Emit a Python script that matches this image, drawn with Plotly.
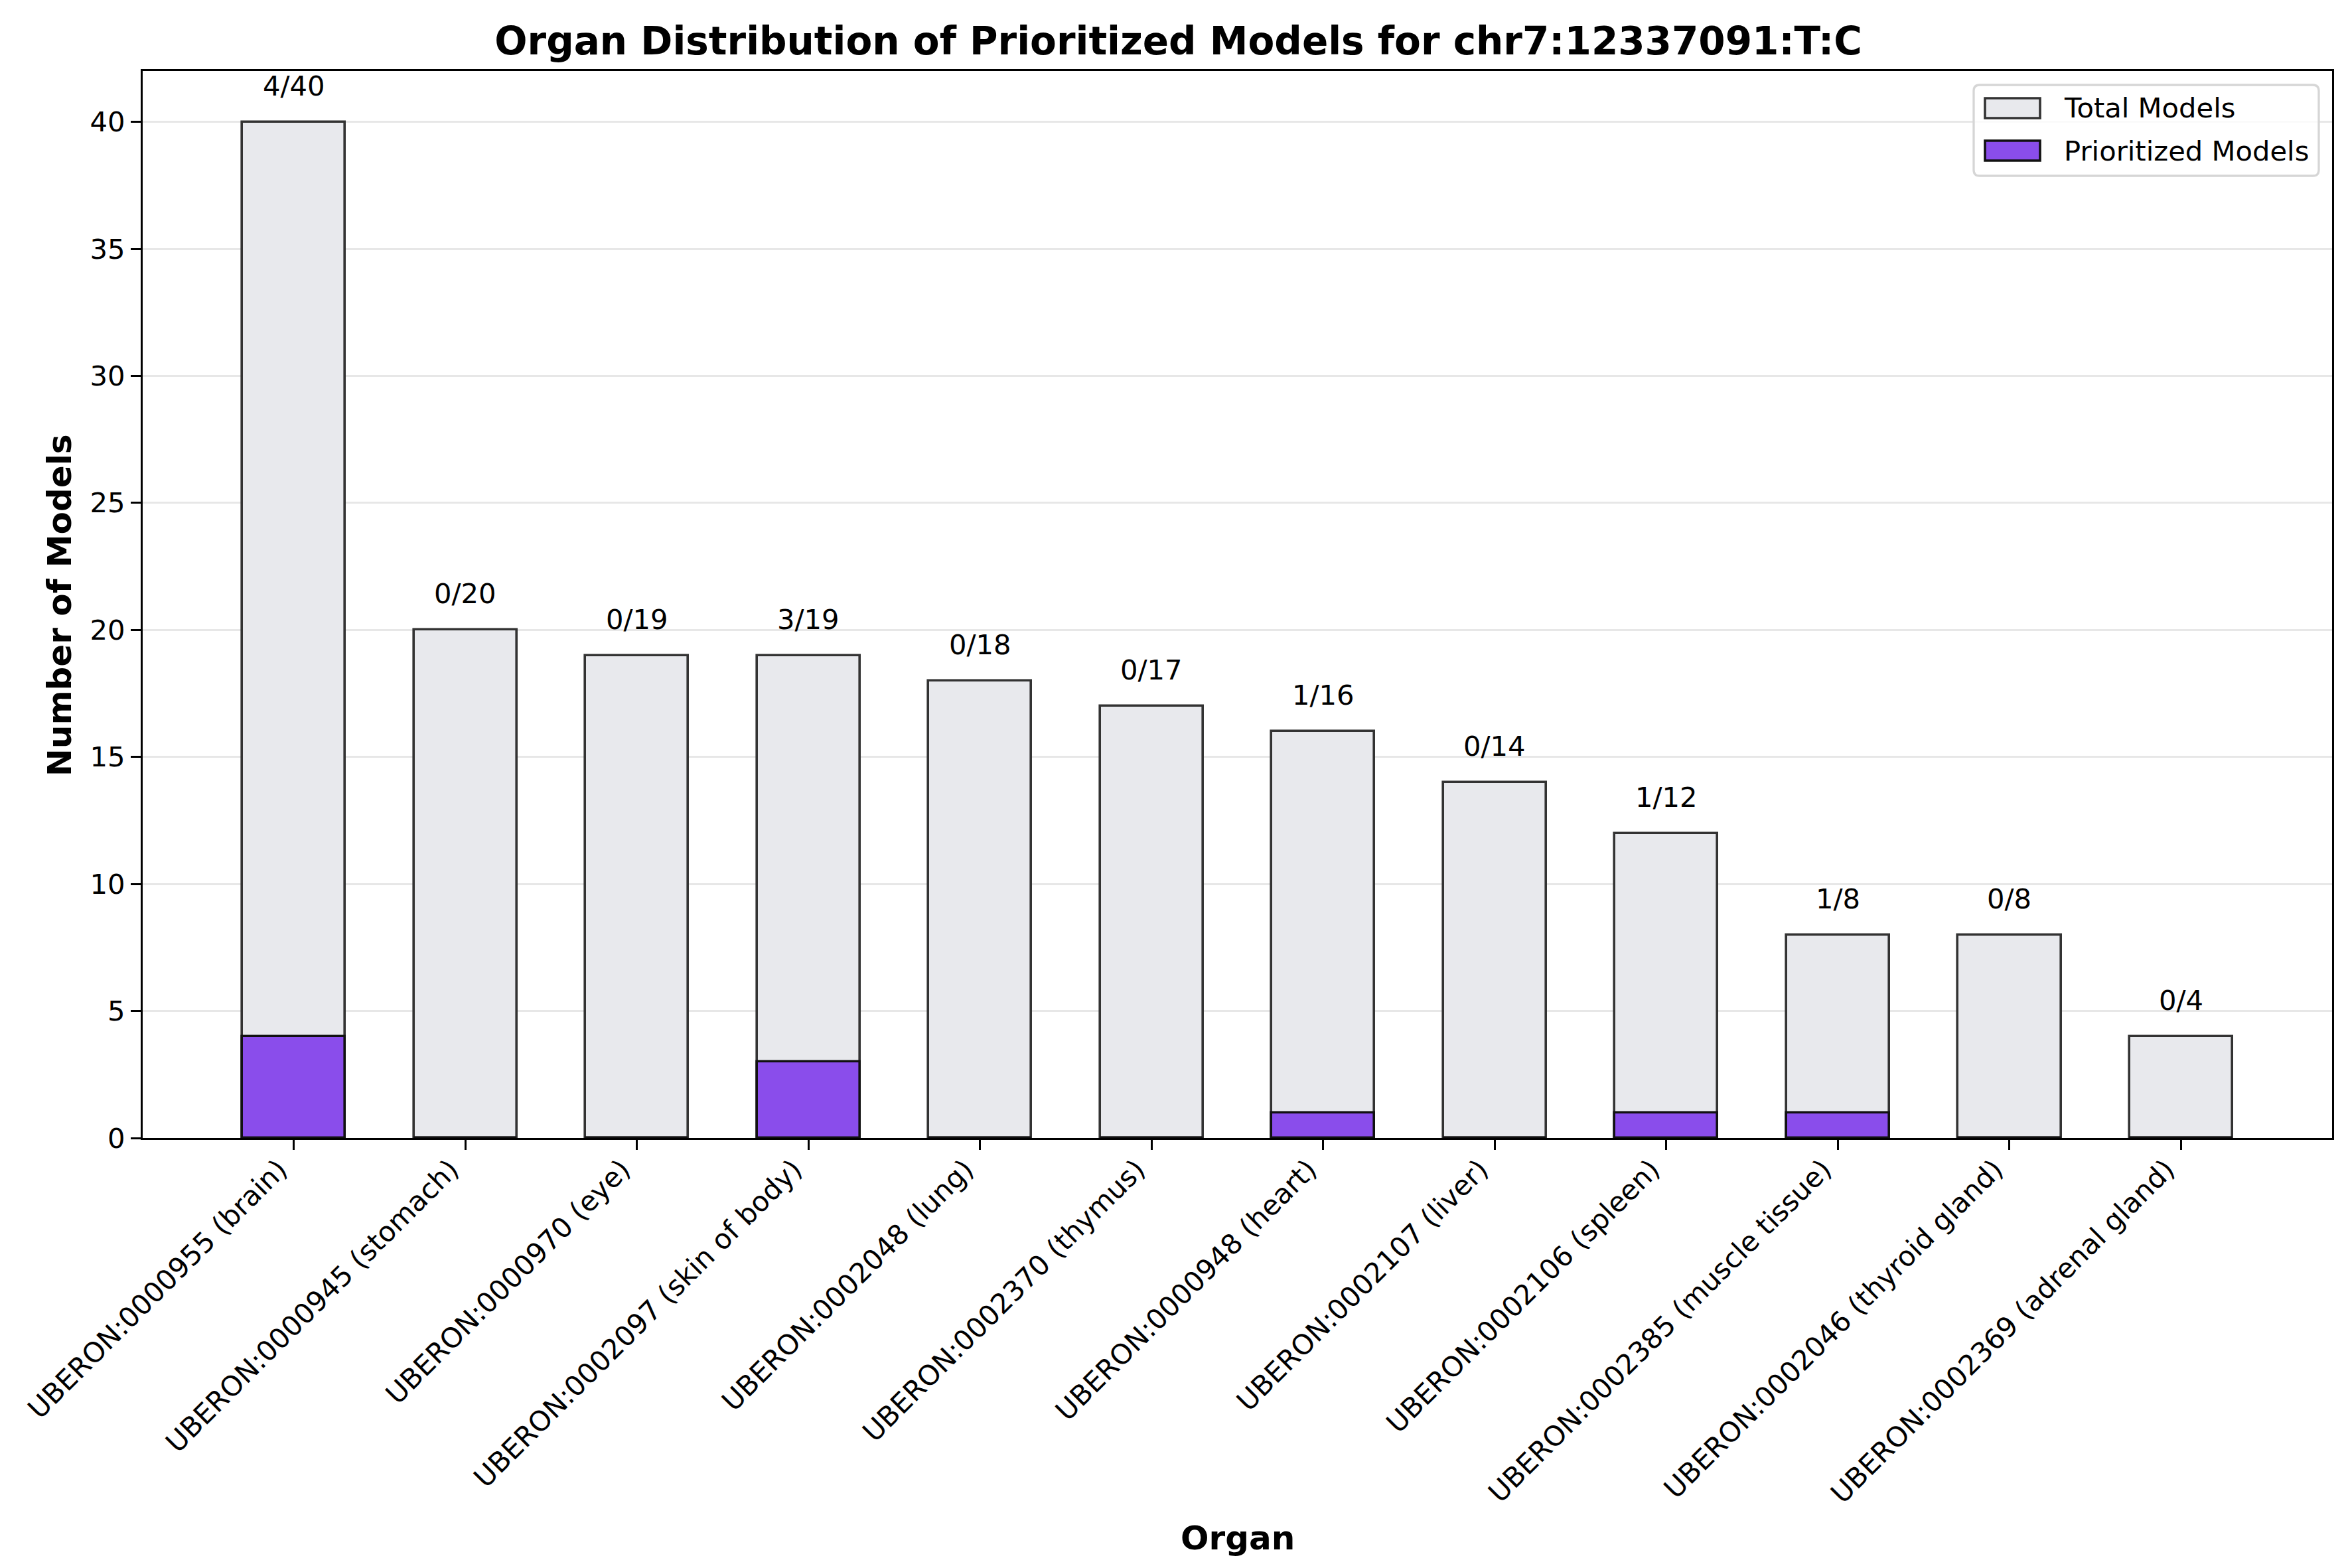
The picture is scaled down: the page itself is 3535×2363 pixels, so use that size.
import plotly.graph_objects as go

organs = [
    "UBERON:0000955 (brain)",
    "UBERON:0000945 (stomach)",
    "UBERON:0000970 (eye)",
    "UBERON:0002097 (skin of body)",
    "UBERON:0002048 (lung)",
    "UBERON:0002370 (thymus)",
    "UBERON:0000948 (heart)",
    "UBERON:0002107 (liver)",
    "UBERON:0002106 (spleen)",
    "UBERON:0002385 (muscle tissue)",
    "UBERON:0002046 (thyroid gland)",
    "UBERON:0002369 (adrenal gland)",
]
total_models = [40, 20, 19, 19, 18, 17, 16, 14, 12, 8, 8, 4]
prioritized_models = [4, 0, 0, 3, 0, 0, 1, 0, 1, 1, 0, 0]
y_ticks = [0, 5, 10, 15, 20, 25, 30, 35, 40]
legend_labels = ["Total Models", "Prioritized Models"]

FONT = "DejaVu Sans"
W, H = 3535, 2363
L, R, T, B = 207, 29, 99, 656
PW, PH = W - L - R, H - T - B
TOTAL_FILL, TOTAL_EDGE = "#E8E9ED", "#333333"
PRIO_FILL, PRIO_EDGE = "#8A4DEB", "#111111"
FS = 41.7


def px_x(px):
    return (px - L) / PW


def px_y(py):
    return (H - B - py) / PH


xpos = list(range(len(organs)))

fig = go.Figure()
fig.add_trace(go.Bar(
    x=xpos, y=total_models, width=0.6, name=legend_labels[0], showlegend=False,
    marker=dict(color=TOTAL_FILL, line=dict(color=TOTAL_EDGE, width=3.6)),
))
fig.add_trace(go.Bar(
    x=xpos, y=prioritized_models, width=0.6, name=legend_labels[1], showlegend=False,
    marker=dict(color=PRIO_FILL, line=dict(color=PRIO_EDGE, width=3.6)),
))

for i, (p, t) in enumerate(zip(prioritized_models, total_models)):
    fig.add_annotation(
        x=i, y=t, text=f"{p}/{t}", showarrow=False,
        yanchor="bottom", yshift=28,
        font=dict(family=FONT, size=FS, color="black"),
    )

# axis titles
fig.add_annotation(
    xref="paper", yref="paper", x=0.5, y=px_y(2310), text="<b>Organ</b>",
    showarrow=False, xanchor="center", yanchor="middle",
    font=dict(family=FONT, size=50, color="black"),
)
fig.add_annotation(
    xref="paper", yref="paper", x=px_x(82), y=px_y(904), text="<b>Number of Models</b>",
    showarrow=False, xanchor="center", yanchor="middle", textangle=-90,
    font=dict(family=FONT, size=50, color="black"),
)

# legend (matplotlib-style box)
fx0, fx1, fy0, fy1 = 2966, 3486, 120, 257
rr = 9
rx, ry = rr / PW, rr / PH
X0, X1, Y0, Y1 = px_x(fx0), px_x(fx1), px_y(fy1), px_y(fy0)
path = (
    f"M {X0 + rx},{Y0} L {X1 - rx},{Y0} Q {X1},{Y0} {X1},{Y0 + ry} "
    f"L {X1},{Y1 - ry} Q {X1},{Y1} {X1 - rx},{Y1} "
    f"L {X0 + rx},{Y1} Q {X0},{Y1} {X0},{Y1 - ry} "
    f"L {X0},{Y0 + ry} Q {X0},{Y0} {X0 + rx},{Y0} Z"
)
fig.add_shape(type="path", xref="paper", yref="paper", path=path,
              fillcolor="rgba(255,255,255,0.8)", line=dict(color="#D6D6D6", width=3.3),
              layer="above")
rows = [(155, TOTAL_FILL, TOTAL_EDGE), (219, PRIO_FILL, PRIO_EDGE)]
for (cy, fill, edge), lab in zip(rows, legend_labels):
    fig.add_shape(type="rect", xref="paper", yref="paper",
                  x0=px_x(2983), x1=px_x(3066), y0=px_y(cy + 15), y1=px_y(cy - 15),
                  fillcolor=fill, line=dict(color=edge, width=3.6), layer="above")
    fig.add_annotation(xref="paper", yref="paper", x=px_x(3100), y=px_y(cy),
                       text=lab, showarrow=False, xanchor="left", yanchor="middle",
                       font=dict(family=FONT, size=FS, color="black"))

fig.update_layout(
    width=W, height=H,
    barmode="overlay",
    paper_bgcolor="white", plot_bgcolor="white",
    margin=dict(l=L, r=R, t=T, b=B),
    font=dict(family=FONT, size=FS, color="black"),
    title=dict(
        text="<b>Organ Distribution of Prioritized Models for chr7:12337091:T:C</b>",
        x=0.5, xanchor="center", y=1 - 54 / H, yanchor="middle",
        font=dict(family=FONT, size=58, color="black"),
    ),
    showlegend=False,
    bargap=0,
)

fig.update_xaxes(
    range=[-0.88, 11.88],
    tickmode="array", tickvals=xpos, ticktext=organs,
    tickangle=-45,
    ticks="outside", ticklen=15, tickwidth=3.3, tickcolor="black",
    ticklabelstandoff=-12, ticklabelshift=-22,
    showline=True, linecolor="black", linewidth=3.3, mirror=True,
    showgrid=False, zeroline=False,
    tickfont=dict(family=FONT, size=FS, color="black"),
)
fig.update_yaxes(
    range=[0, 42],
    tickmode="array", tickvals=y_ticks,
    ticks="outside", ticklen=15, tickwidth=3.3, tickcolor="black",
    showline=True, linecolor="black", linewidth=3.3, mirror=True,
    showgrid=True, gridcolor="rgba(176,176,176,0.3)", gridwidth=3,
    zeroline=False,
    tickfont=dict(family=FONT, size=FS, color="black"),
)

fig.write_html("out.html")
